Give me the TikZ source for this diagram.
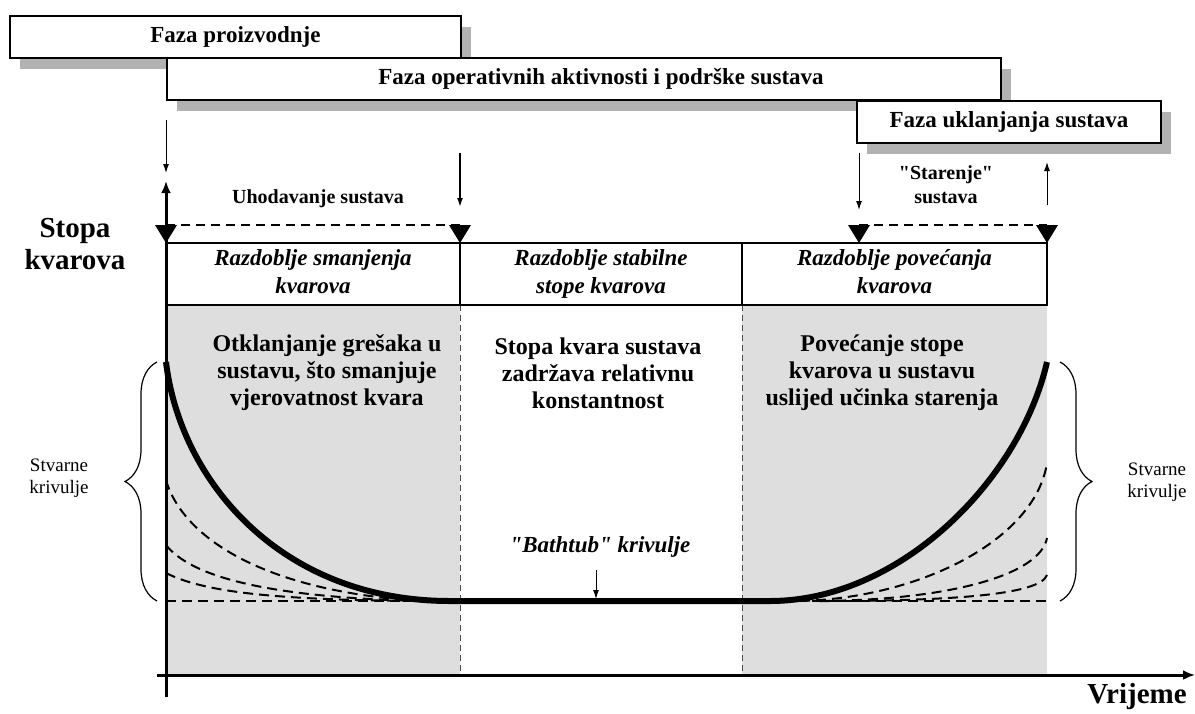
\documentclass[tikz,border=0pt]{standalone}
\usepackage{fontspec}
\setmainfont{Liberation Serif}
\usetikzlibrary{shapes,arrows.meta,positioning,shadows,decorations.pathreplacing}
\def \tu {0.5pt}

\begin{document}
\begin{tikzpicture}[x=\tu,y=-\tu,>={Latex[length=4.5pt,width=3pt]},
    phase/.style={draw,line width=1pt,fill=white,anchor=north west,inner sep=0pt,
      minimum height=42*\tu,font=\bfseries\fontsize{11.5}{13}\selectfont,
      drop shadow={shadow xshift=10*\tu,shadow yshift=-11*\tu,fill=black!30,opacity=1}},
    period/.style={draw,line width=1pt,anchor=north west,inner sep=0pt,outer sep=0pt,minimum height=62*\tu,
      align=center,font=\bfseries\itshape\fontsize{11.5}{14}\selectfont},
    note/.style={align=center,font=\bfseries\fontsize{12}{13.5}\selectfont},
    lbl/.style={align=center,font=\bfseries\fontsize{10}{12}\selectfont},
    side/.style={align=center,font=\fontsize{9.5}{11}\selectfont},
    big/.style={align=center,font=\bfseries\fontsize{14.5}{16}\selectfont},
    real/.style={line width=1pt,dash pattern=on 5pt off 3pt},
    tub/.style={line width=3pt},
    divider/.style={line width=0.5pt,black!70,densely dashed},
    span/.style={line width=1pt,dash pattern=on 4.5pt off 3pt}]
  \useasboundingbox (0,0) rectangle (1195,713);

  \node[phase,minimum width=451*\tu] (prod) at (9,15) {Faza proizvodnje};
  \node[phase,minimum width=834*\tu] (oper) at (166,57) {\hspace*{17pt}Faza operativnih aktivnosti i podrške sustava};
  \node[phase,minimum width=304*\tu] (ukl) at (856,100) {Faza uklanjanja sustava};

  \fill[black!13] (166,305) rectangle (460,675);
  \fill[black!13] (742,305) rectangle (1047,675);
  \draw[divider] (460,305) -- (460,675);
  \draw[divider] (742,305) -- (742,675);

  \node[period,minimum width=294*\tu] (hdr1) at (166,243) {\strut Razdoblje smanjenja\\kvarova\strut};
  \node[period,minimum width=282*\tu,right=0pt of hdr1] (hdr2) {\strut Razdoblje stabilne\\stope kvarova\strut};
  \node[period,minimum width=305*\tu,right=0pt of hdr2] (hdr3) {\strut Razdoblje povećanja\\kvarova\strut};

  \foreach \x/\i in {166/1,460/2,859/3,1047/4} {
    \coordinate (t\i) at (\x,225);
    \fill (\x-11,225) -- (\x+11,225) -- (\x,243) -- cycle;
  }
  \draw[span] (t1) -- (t2);
  \draw[span] (t3) -- (t4);

  \coordinate (a1) at (166,120); \coordinate (a2) at (166,173);
  \coordinate (b1) at (460,153); \coordinate (b2) at (460,207);
  \coordinate (c1) at (859,153); \coordinate (c2) at (859,210);
  \coordinate (d1) at (1047,205); \coordinate (d2) at (1047,162);
  \draw[->,line width=0.5pt] (a1) -- (a2);
  \draw[->,line width=0.8pt] (b1) -- (b2);
  \draw[->,line width=0.5pt] (c1) -- (c2);
  \draw[->,line width=0.5pt] (d1) -- (d2);

  \node[lbl] (uhod) at (318,199) {Uhodavanje sustava};
  \node[lbl] (star) at (946,185) {\textquotedbl Starenje\textquotedbl\\sustava};
  \node[big] (stopa) at (75,244) {Stopa\\kvarova};

  \node[note] (n1) at (327,373) {Otklanjanje grešaka u\\sustavu, što smanjuje\\vjerovatnost kvara};
  \node[note] (n2) at (598,373) {Stopa kvara sustava\\zadržava relativnu\\konstantnost};
  \node[note] (n3) at (882,373) {Povećanje stope\\kvarova u sustavu\\uslijed učinka starenja};

  \draw[real] (166,480) .. controls (180,530) and (250,590) .. (420,601);
  \draw[real] (166,545) .. controls (190,575) and (260,597) .. (420,601);
  \draw[real] (166,573) .. controls (200,590) and (260,600) .. (420,601);
  \draw[real] (166,601) -- (440,601);
  \draw[real] (800,601) .. controls (920,598) and (1035,540) .. (1047,463);
  \draw[real] (820,601) .. controls (950,600) and (1040,575) .. (1047,538);
  \draw[real] (820,601) .. controls (950,601) and (1040,595) .. (1047,575);
  \draw[real] (780,601) -- (1047,601);
  \draw[tub] (166,362) .. controls (180,480) and (280,601) .. (450,601) -- (770,601)
    .. controls (900,601) and (1020,480) .. (1047,362);

  \node[font=\bfseries\itshape\fontsize{11.5}{13}\selectfont] (bath) at (600,547) {\textquotedbl Bathtub\textquotedbl\ krivulje};
  \coordinate (e1) at (596,570); \coordinate (e2) at (596,599);
  \draw[->,line width=0.5pt] (e1) -- (e2);

  \coordinate (l1) at (157,601); \coordinate (l2) at (157,362);
  \coordinate (r1) at (1060,362); \coordinate (r2) at (1060,601);
  \draw[line width=0.6pt,decorate,decoration={brace,amplitude=16pt}] (l1) -- (l2);
  \draw[line width=0.6pt,decorate,decoration={brace,amplitude=16pt}] (r1) -- (r2);
  \node[side] (sl) at (59,478) {Stvarne\\krivulje};
  \node[side] (sr) at (1157,482) {Stvarne\\krivulje};

  \coordinate (ybot) at (166,697); \coordinate (ytop) at (166,181);
  \coordinate (xl) at (157,675); \coordinate (xr) at (1195,675);
  \draw[line width=1.5pt,-{Latex[length=6pt,width=5pt]}] (ybot) -- (ytop);
  \draw[line width=1.5pt,-{Latex[length=6pt,width=5pt]}] (xl) -- (xr);
  \node[big] (vrij) at (1137,697) {Vrijeme};
\end{tikzpicture}
\end{document}
